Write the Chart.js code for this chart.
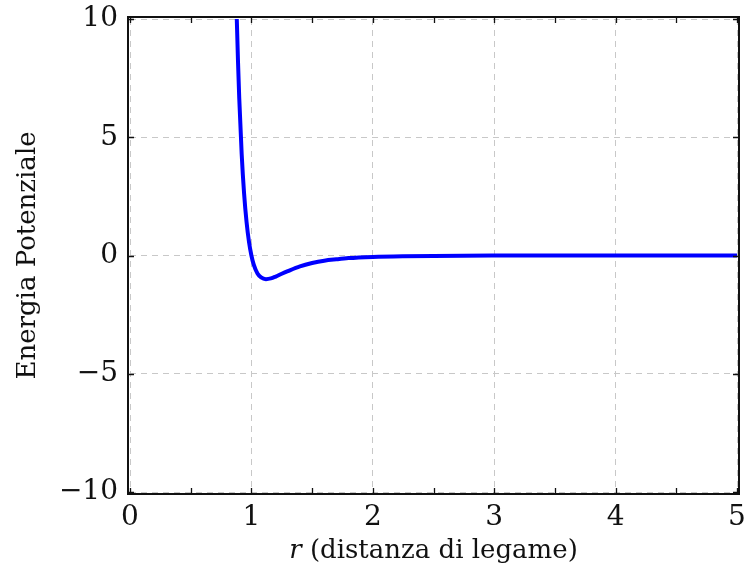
<!DOCTYPE html>
<html>
<head>
<meta charset="utf-8">
<script src="https://cdn.jsdelivr.net/npm/chart.js@4/dist/chart.umd.min.js"></script>
<style>
html,body{margin:0;padding:0;background:#fff;}
#wrap{width:746px;height:576px;}
</style>
</head>
<body>
<div id="wrap"><canvas id="c" width="746" height="576"></canvas></div>
<script>
// Values (Lennard-Jones-like potential curve)
const rValues = [0.86, 0.87, 0.88, 0.89, 0.90, 0.92, 0.94, 0.96, 0.98, 1.00, 1.02, 1.05, 1.08, 1.12, 1.16, 1.20, 1.25, 1.30, 1.40, 1.50, 1.60, 1.70, 1.80, 2.00, 2.25, 2.50, 3.00, 3.50, 4.00, 4.50, 5.00];
const energyValues = [14.55, 12.05, 9.93, 8.15, 6.64, 4.28, 2.61, 1.42, 0.58, 0.00, -0.40, -0.76, -0.93, -1.00, -0.97, -0.89, -0.77, -0.66, -0.46, -0.32, -0.22, -0.16, -0.11, -0.06, -0.03, -0.016, -0.005, -0.002, -0.001, -0.0005, -0.0003];
const xTicks = [0, 1, 2, 3, 4, 5];
const xMinorTicks = [0.5, 1.5, 2.5, 3.5, 4.5];
const yTicks = [-10, -5, 0, 5, 10];
const xLabelVar = 'r';
const xLabelRest = ' (distanza di legame)';
const yLabel = 'Energia Potenziale';

const FONT = "'DejaVu Serif', 'Liberation Serif', serif";
const fmt = v => v < 0 ? '\u2212' + Math.abs(v) : String(v);

const framePlugin = {
  id: 'frame',
  afterDraw(chart) {
    const {ctx, chartArea: a, scales: {x, y}} = chart;
    const pad = 2;
    const L = a.left - pad, R = a.right + pad, T = a.top - pad, B = a.bottom + pad;
    ctx.save();
    ctx.strokeStyle = '#111';
    ctx.lineWidth = 2;
    ctx.strokeRect(L, T, R - L, B - T);
    ctx.lineWidth = 1.3;
    const tl = 6;
    ctx.beginPath();
    [...xTicks, ...xMinorTicks].forEach(v => {
      const px = Math.round(x.getPixelForValue(v)) + 0.5;
      ctx.moveTo(px, B); ctx.lineTo(px, B - tl);
      ctx.moveTo(px, T); ctx.lineTo(px, T + tl);
    });
    yTicks.forEach(v => {
      const py = Math.round(y.getPixelForValue(v)) + 0.5;
      ctx.moveTo(L, py); ctx.lineTo(L + tl, py);
      ctx.moveTo(R, py); ctx.lineTo(R - tl, py);
    });
    ctx.stroke();
    // x axis title: italic variable + upright rest
    const fItal = "italic 26px " + FONT;
    const fUp = "26px " + FONT;
    ctx.fillStyle = '#111';
    ctx.textBaseline = 'middle';
    ctx.textAlign = 'left';
    ctx.font = fItal; const w1 = ctx.measureText(xLabelVar).width;
    ctx.font = fUp; const w2 = ctx.measureText(xLabelRest).width;
    const cx = (a.left + a.right) / 2;
    const ty = 551;
    let sx = cx - (w1 + w2) / 2;
    ctx.font = fItal; ctx.fillText(xLabelVar, sx, ty);
    ctx.font = fUp; ctx.fillText(xLabelRest, sx + w1, ty);
    ctx.restore();
  }
};

new Chart(document.getElementById('c'), {
  type: 'scatter',
  data: {
    datasets: [{
      data: rValues.map((r, i) => ({x: r, y: energyValues[i]})),
      showLine: true,
      borderColor: '#0000ff',
      borderWidth: 4,
      pointRadius: 0,
      cubicInterpolationMode: 'monotone',
      clip: 0,
      fill: false
    }]
  },
  options: {
    responsive: false,
    animation: false,
    devicePixelRatio: 1,
    layout: {padding: {top: 19, right: 9, left: 0, bottom: 0}},
    plugins: {legend: {display: false}, tooltip: {enabled: false}},
    scales: {
      x: {
        type: 'linear', min: 0, max: 5,
        afterBuildTicks: s => { s.ticks = xTicks.map(v => ({value: v})); },
        afterFit: s => { s.height = 84; s.paddingLeft = 0; s.paddingRight = 0; },
        grid: {color: '#c8c8c8', lineWidth: 1, drawTicks: false},
        border: {display: false, dash: [6, 5]},
        ticks: {padding: 9, color: '#111', font: {family: FONT, size: 28}, callback: v => fmt(v), maxRotation: 0},
        title: {display: false}
      },
      y: {
        type: 'linear', min: -10, max: 10,
        afterBuildTicks: s => { s.ticks = yTicks.map(v => ({value: v})); },
        afterFit: s => { s.width = 130; s.paddingTop = 0; s.paddingBottom = 0; },
        grid: {color: '#c8c8c8', lineWidth: 1, drawTicks: false},
        border: {display: false, dash: [6, 5]},
        ticks: {padding: 12, color: '#111', font: {family: FONT, size: 28}, callback: v => fmt(v)},
        title: {display: true, text: yLabel, color: '#111', font: {family: FONT, size: 26}, padding: {top: 13, bottom: 0}}
      }
    }
  },
  plugins: [framePlugin]
});
</script>
</body>
</html>
